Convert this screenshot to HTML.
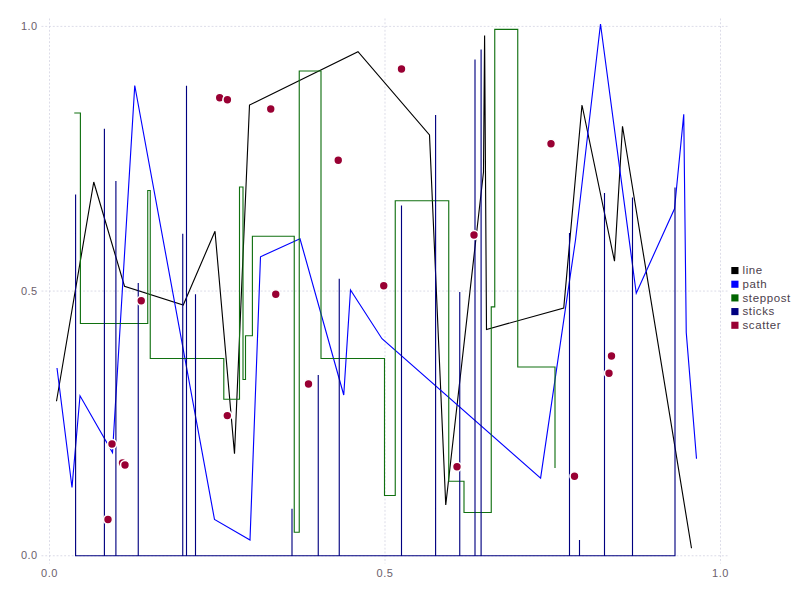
<!DOCTYPE html>
<html><head><meta charset="utf-8"><style>
html,body{margin:0;padding:0;background:#fff;width:800px;height:600px;overflow:hidden}
svg{display:block}
text{font-family:"Liberation Sans",sans-serif;font-size:11px;fill:#6C606B;letter-spacing:0.5px}
text.k{fill:#4C404B;font-size:11.5px;letter-spacing:0.6px}
</style></head><body>
<svg width="800" height="600" viewBox="0 0 800 600">
<rect width="800" height="600" fill="#fff"/>
<g stroke="#D0D0E0" stroke-width="0.756" stroke-dasharray="1.89 1.89" fill="none"><line x1="41.5" y1="26.4" x2="727.5" y2="26.4"/><line x1="41.5" y1="291.075" x2="727.5" y2="291.075"/><line x1="41.5" y1="555.75" x2="727.5" y2="555.75"/><line x1="49.5" y1="18.5" x2="49.5" y2="563.5"/><line x1="385.0" y1="18.5" x2="385.0" y2="563.5"/><line x1="720.5" y1="18.5" x2="720.5" y2="563.5"/></g>
<g><text x="37.7" y="30" text-anchor="end">1.0</text><text x="37.7" y="295" text-anchor="end">0.5</text><text x="37.7" y="559" text-anchor="end">0.0</text><text x="49.5" y="577" text-anchor="middle">0.0</text><text x="385.0" y="577" text-anchor="middle">0.5</text><text x="720.5" y="577" text-anchor="middle">1.0</text></g>
<g fill="none" stroke-width="1.13" stroke-linejoin="miter">
<polyline points="56.5,401.25 93.75,182 124.5,286.25 183.25,305 215,231.25 234.5,453.8 249.5,105 358,51.75 429.5,135 445.75,505 483.5,172 484.6,35.6 486.5,329.5 563.75,308 582,105 614.5,261.25 622.5,126.25 691.5,548.25" stroke="#000000"/>
<polyline points="57,368 72,487.5 80,395.75 112.5,452.5 134.75,85.5 214.5,519.5 250,540 260.5,256.75 300,238.75 343.75,395 350.5,290 382,338.75 540.6,478.2 575.5,240 600.5,24 636.25,293.25 674.5,208.75 683.75,114.25 686.25,332.5 696.5,458.75" stroke="#0000FF"/>
<path d="M74.25,113 H80.4 V323.5 H147.75 V190.5 H150.25 V358.5 H223.8 V399.3 H239.5 V187 H243 V379.5 H245.5 V335.8 H252.4 V236.25 H294.25 V532.25 H299.25 V71 H321 V358.5 H384.5 V495.5 H395.25 V200.75 H448.75 V481.25 H464 V512.5 H491.25 V306.9 H494.75 V29.4 H517.75 V367 H555 V468" stroke="#107010"/>
<path d="M75.6,555.75 L75.6,555.75 L75.6,194.4 L75.6,555.75 L104.4,555.75 L104.4,128.75 L104.4,555.75 L115.9,555.75 L115.9,181 L115.9,555.75 L138.25,555.75 L138.25,283 L138.25,555.75 L182.75,555.75 L182.75,233.75 L182.75,555.75 L186.5,555.75 L186.5,85.75 L186.5,555.75 L195.5,555.75 L195.5,294.25 L195.5,555.75 L292,555.75 L292,508.75 L292,555.75 L318.25,555.75 L318.25,375 L318.25,555.75 L339.25,555.75 L339.25,278.75 L339.25,555.75 L401.5,555.75 L401.5,205.5 L401.5,555.75 L435.6,555.75 L435.6,115 L435.6,555.75 L459.75,555.75 L459.75,292 L459.75,555.75 L475,555.75 L475,59.4 L475,555.75 L481.1,555.75 L481.1,49.4 L481.1,555.75 L569.5,555.75 L569.5,233 L569.5,555.75 L579.5,555.75 L579.5,540 L579.5,555.75 L604.5,555.75 L604.5,193 L604.5,555.75 L632.5,555.75 L632.5,197.5 L632.5,555.75 L675,555.75 L675,187.5 L675,555.75" stroke="#000080"/>
</g>
<g fill="#990033" stroke="#ffffff" stroke-width="1.6"><circle cx="108" cy="519.5" r="4.5"/><circle cx="112" cy="444" r="4.5"/><circle cx="122.5" cy="463" r="4.5"/><circle cx="125" cy="465" r="4.5"/><circle cx="141.25" cy="300.75" r="4.5"/><circle cx="219.7" cy="97.8" r="4.5"/><circle cx="227.4" cy="99.8" r="4.5"/><circle cx="227.3" cy="415.6" r="4.5"/><circle cx="270.75" cy="109" r="4.5"/><circle cx="275.75" cy="294.25" r="4.5"/><circle cx="308.5" cy="384" r="4.5"/><circle cx="338.25" cy="160.25" r="4.5"/><circle cx="383.75" cy="285.75" r="4.5"/><circle cx="401.5" cy="69" r="4.5"/><circle cx="457" cy="466.75" r="4.5"/><circle cx="474" cy="235" r="4.5"/><circle cx="551" cy="143.75" r="4.5"/><circle cx="574.5" cy="476.25" r="4.5"/><circle cx="609" cy="373.25" r="4.5"/><circle cx="611.5" cy="356" r="4.5"/></g>
<g><rect x="731.3" y="267.00" width="7.2" height="7.1" fill="#000000"/><text x="742.5" y="274.30" class="k">line</text><rect x="731.3" y="280.68" width="7.2" height="7.1" fill="#0000FF"/><text x="742.5" y="287.98" class="k">path</text><rect x="731.3" y="294.36" width="7.2" height="7.1" fill="#006400"/><text x="742.5" y="301.66" class="k">steppost</text><rect x="731.3" y="308.04" width="7.2" height="7.1" fill="#000080"/><text x="742.5" y="315.34" class="k">sticks</text><rect x="731.3" y="321.72" width="7.2" height="7.1" fill="#990033"/><text x="742.5" y="329.02" class="k">scatter</text></g>
</svg>
</body></html>
